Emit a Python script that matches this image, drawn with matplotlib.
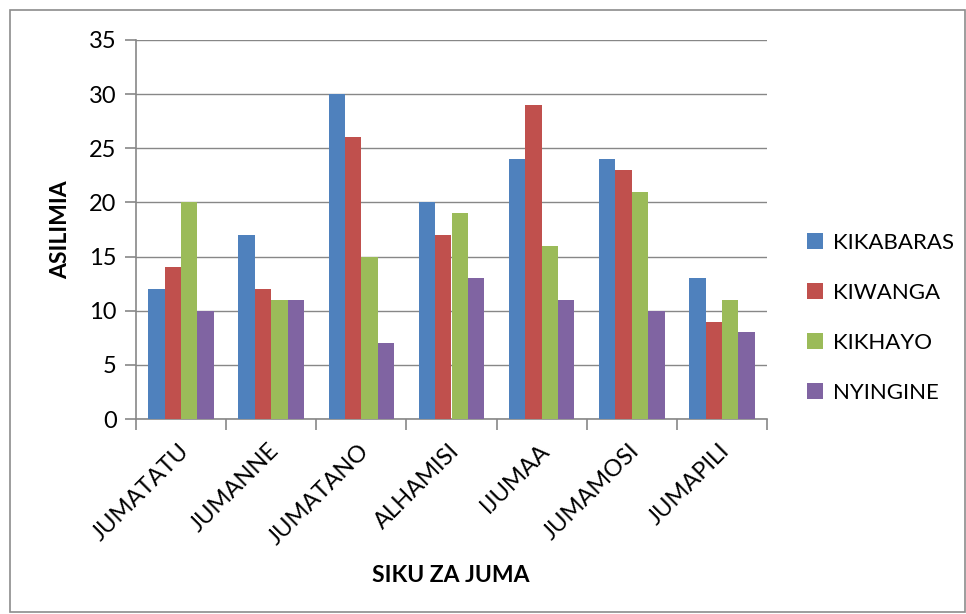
import numpy as np
import matplotlib.pyplot as plt
import matplotlib.transforms as mtransforms
from matplotlib.patches import Rectangle

plt.rcParams['font.family'] = ['Lato', 'DejaVu Sans']

days = ["JUMATATU", "JUMANNE", "JUMATANO", "ALHAMISI", "IJUMAA", "JUMAMOSI", "JUMAPILI"]
kikabaras = [12, 17, 30, 20, 24, 24, 13]
kiwanga = [14, 12, 26, 17, 29, 23, 9]
kikhayo = [20, 11, 15, 19, 16, 21, 11]
nyingine = [10, 11, 7, 13, 11, 10, 8]

series = [("KIKABARAS", kikabaras, "#4F81BD"),
          ("KIWANGA", kiwanga, "#C0504D"),
          ("KIKHAYO", kikhayo, "#9BBB59"),
          ("NYINGINE", nyingine, "#8064A2")]

fig = plt.figure(figsize=(9.66, 6.14), dpi=100)
fig.patches.append(Rectangle((10/966, 1 - 612/614), 955/966, 602/614, transform=fig.transFigure,
                             fill=False, edgecolor='#8c8c8c', linewidth=1.2))
ax = fig.add_axes([136/966, 1 - 419/614, (767-136)/966, (419-40)/614])

x = np.arange(len(days))
w = 0.182
for i, (name, vals, col) in enumerate(series):
    ax.bar(x + (i - 1.5) * w, vals, width=w, color=col, label=name, zorder=3)

grid_col = '#878787'
ax.set_ylim(0, 35)
ax.set_xlim(-0.5, len(days) - 0.5)
ax.set_yticks(range(0, 36, 5))
ax.yaxis.grid(True, color=grid_col, linewidth=1.0, zorder=0)
# ticks sit between the categories, names are drawn at the centres
ax.set_xticks(np.arange(len(days) + 1) - 0.5)
ax.set_xticklabels([])
offset = mtransforms.ScaledTranslation(-3/100, -21/100, fig.dpi_scale_trans)
for xi, day in zip(x, days):
    ax.text(xi, 0, day, transform=ax.get_xaxis_transform() + offset, rotation=45,
            ha='right', va='top', rotation_mode='anchor', fontsize=17)
ax.tick_params(axis='x', which='major', length=8, color=grid_col, width=1.2)
ax.tick_params(axis='y', length=8, color=grid_col, width=1.2, labelsize=17, pad=6)
for s in ['top', 'right']:
    ax.spines[s].set_visible(False)
for s in ['left', 'bottom']:
    ax.spines[s].set_color(grid_col)
    ax.spines[s].set_linewidth(1.2)

ax.set_ylabel("ASILIMIA", fontsize=16.5, fontweight='bold')
ax.yaxis.set_label_coords((71 - 136) / 631, 0.5)
fig.text(451/966, 1 - 576/614, "SIKU ZA JUMA", fontsize=16.5, fontweight='bold',
         ha='center', va='center')

ax.legend(loc='center left', bbox_to_anchor=(787/966, 1 - 318/614), bbox_transform=fig.transFigure,
          frameon=False, fontsize=16, handlelength=0.7, handleheight=0.7,
          handletextpad=0.45, labelspacing=1.35)

fig.savefig("out.png", dpi=100, facecolor='white')
